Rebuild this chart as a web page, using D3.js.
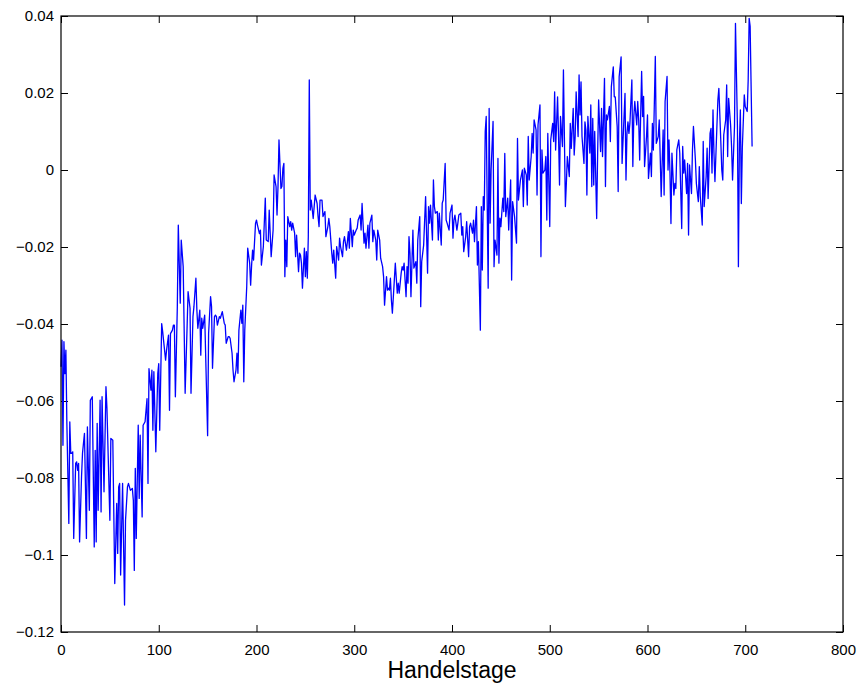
<!DOCTYPE html>
<html>
<head>
<meta charset="utf-8">
<script src="https://cdn.jsdelivr.net/npm/d3@7"></script>
<style>
  body { margin: 0; background: #fff; }
  text { font-family: "Liberation Sans", Arial, sans-serif; }
</style>
</head>
<body>
<div id="chart"></div>
<script>
// chart size
var width = 864;
var height = 691;
// plot box in pixels
var margin = { top: 16, right: 21, bottom: 59, left: 61 };

// tick values
const xTicks = [0, 100, 200, 300, 400, 500, 600, 700, 800];
const yTicks = [-0.12, -0.1, -0.08, -0.06, -0.04, -0.02, 0, 0.02, 0.04];
const xLabel = "Handelstage";

// trading day index
const days = [
  0, 1, 2, 3, 4, 5, 6, 8, 9, 10, 11, 12, 13, 15, 16, 17, 18, 19, 21, 22, 24, 26, 27, 29, 30,
  32, 34, 35, 36, 37, 38, 40, 41, 42, 44, 46, 47, 50, 51, 53, 55, 57, 58, 59, 60, 61, 63, 65,
  66, 68, 69, 71, 73, 74, 75, 76, 77, 79, 80, 81, 83, 84, 86, 87, 88, 89, 90, 92, 93, 94, 95,
  97, 99, 100, 101, 103, 104, 107, 108, 110, 111, 112, 114, 115,
  116, 117, 119, 120, 122, 123, 125, 127, 129, 130, 132, 133, 135, 136, 138, 139, 140, 142,
  143, 144, 145, 147, 150, 151, 153, 154, 155, 157, 158, 159, 160, 162, 163, 165, 167, 168,
  169, 171, 172, 173, 175, 176, 177, 179, 180, 181, 182, 184, 185, 186, 187, 188, 190, 191,
  193, 194, 195, 196, 197, 199, 200, 201, 203, 204,
  205, 207, 209, 210, 212, 213, 214, 215, 217, 218, 220, 221, 222, 223, 225, 226, 227, 228,
  229, 230, 231, 232, 234, 235, 236, 237, 239, 240, 241, 243, 244, 245,
  246, 247, 249, 250, 251, 252, 253, 254, 255, 256, 258, 259, 260, 262, 263, 264, 265, 267,
  268, 270, 271, 273, 274, 275, 277, 278, 279, 281, 282, 284, 285, 286, 288, 289, 290, 292,
  293, 294, 295, 296, 298, 299, 300, 302, 303, 304, 306, 307, 308, 310, 311, 312, 314, 315,
  316, 318, 319, 320, 322, 323, 324, 326, 327, 329, 330, 331, 333, 334, 335, 336, 337, 338,
  339, 341, 342, 344, 345, 346, 348, 349, 350,
  351, 352, 353, 354, 355, 356, 357, 358, 360, 361, 363, 364, 365, 367, 368, 369, 371, 373,
  375, 376, 377, 378, 380, 381, 382, 383, 385, 386, 387, 389, 390, 391, 393, 394, 395, 397,
  398, 400, 401, 402, 403, 405, 406, 407, 409, 410, 411, 412, 414, 415, 417, 418, 419, 421,
  422, 423, 425, 426, 427, 429, 430, 431, 432, 433, 434, 435, 437, 438, 439, 440, 442, 443,
  444, 446, 447, 448, 449, 450, 452, 453, 454, 455, 457, 458, 460, 461, 462, 464, 466, 467, 468,
  470, 472, 473, 474, 476, 477, 478, 479, 481, 482, 483, 484, 486, 487, 488, 490, 491, 492,
  493, 495, 496, 497, 498, 500, 501, 503, 504, 505, 506, 508, 509, 510, 511, 513, 514, 516,
  517, 518, 520, 521, 522, 524, 525, 526, 527, 529, 530, 531, 532, 533, 535, 536, 537, 538,
  539, 541, 542, 543, 544, 545, 546, 548, 549, 550, 552, 553, 554, 556, 557, 558, 559, 561,
  562, 563, 565, 566, 567, 569, 570, 571, 573, 574, 575, 577, 578, 579, 580, 581, 582, 584,
  585, 586,
  587, 589, 590, 591, 592, 594, 595, 596, 597, 599, 600, 601, 603, 604, 605, 606, 608, 609,
  611, 612, 613, 614, 616, 617, 618, 620, 621, 622, 623, 624, 625, 627, 628, 629, 630, 632,
  633, 635, 636, 637, 638, 640, 641, 642, 643, 645, 646, 647, 649, 650, 652, 653, 654, 656,
  657, 658, 660, 661, 662, 664, 665, 666, 667, 668, 669, 671, 672, 673, 675, 676, 677, 678,
  680, 681, 682, 683, 685, 686, 687, 689, 690, 692, 693, 694, 695, 696, 697, 699, 700, 702,
  703, 704, 705, 707
];

// value for each day
const values = [
  -0.0511, -0.0442, -0.0715, -0.0446, -0.0529, -0.0468, -0.0658, -0.0918, -0.0654, -0.0736,
  -0.0736, -0.0732, -0.0957, -0.0762, -0.0758, -0.0780, -0.0762, -0.0966, -0.0797, -0.0736,
  -0.0684, -0.0957, -0.0667, -0.0884, -0.0598, -0.0589, -0.0979, -0.0728, -0.0966, -0.0658,
  -0.0884, -0.0598, -0.0888, -0.0589, -0.0836, -0.0563, -0.0619, -0.0910, -0.0697, -0.0702,
  -0.1074, -0.0866, -0.0996, -0.0823, -0.0814, -0.1052, -0.0814, -0.1130, -0.0910, -0.0823,
  -0.0814, -0.0832, -0.0827, -0.0858, -0.1040, -0.0775, -0.0957, -0.0663, -0.0853, -0.0689,
  -0.0901, -0.0663, -0.0654, -0.0624, -0.0594, -0.0814, -0.0516, -0.0572, -0.0520, -0.0676,
  -0.0524, -0.0732, -0.0529, -0.0503, -0.0676, -0.0399, -0.0420, -0.0494, -0.0468, -0.0429,
  -0.0624, -0.0425, -0.0416, -0.0403,
  -0.0403, -0.0589, -0.0355, -0.0143, -0.0346, -0.0182, -0.0251, -0.0580, -0.0407, -0.0316,
  -0.0359, -0.0580, -0.0381, -0.0355, -0.0281, -0.0364, -0.0411, -0.0364, -0.0481, -0.0385,
  -0.0411, -0.0377, -0.0690, -0.0424, -0.0329, -0.0355, -0.0515, -0.0381, -0.0377, -0.0381,
  -0.0403, -0.0381, -0.0385, -0.0368, -0.0398, -0.0403, -0.0450, -0.0433, -0.0433, -0.0437,
  -0.0476, -0.0520, -0.0550, -0.0520, -0.0476, -0.0528, -0.0416, -0.0364, -0.0398, -0.0351,
  -0.0550, -0.0416, -0.0303, -0.0203, -0.0242, -0.0299, -0.0247, -0.0208, -0.0234, -0.0139,
  -0.0130, -0.0143, -0.0165, -0.0156,
  -0.0247, -0.0199, -0.0073, -0.0182, -0.0186, -0.0104, -0.0164, -0.0225, -0.0156, -0.0013,
  -0.0043, -0.0117, -0.0043, 0.0078, -0.0048, -0.0043, 0.0004, 0.0017, -0.0277, -0.0182,
  -0.0251, -0.0121, -0.0147, -0.0134, -0.0156, -0.0138, -0.0164, -0.0225, -0.0169, -0.0264,
  -0.0216, -0.0221,
  -0.0242, -0.0307, -0.0203, -0.0277, -0.0212, -0.0281, -0.0173, 0.0234, -0.0104, -0.0078,
  -0.0126, -0.0095, -0.0065, -0.0087, -0.0121, -0.0147, -0.0078, -0.0078, -0.0121, -0.0108,
  -0.0173, -0.0147, -0.0126, -0.0147, -0.0216, -0.0242, -0.0208, -0.0281, -0.0199, -0.0234,
  -0.0177, -0.0199, -0.0225, -0.0186, -0.0173, -0.0208, -0.0186, -0.0160, -0.0203, -0.0126,
  -0.0199, -0.0156, -0.0169, -0.0156, -0.0151, -0.0130, -0.0117, -0.0156, -0.0087, -0.0190,
  -0.0164, -0.0203, -0.0143, -0.0203, -0.0138, -0.0117, -0.0186, -0.0156, -0.0182, -0.0234,
  -0.0156, -0.0182, -0.0229, -0.0251, -0.0277, -0.0351, -0.0277, -0.0312, -0.0307, -0.0312,
  -0.0281, -0.0338, -0.0372, -0.0286, -0.0242, -0.0320, -0.0294, -0.0320, -0.0268, -0.0251,
  -0.0260,
  -0.0242, -0.0286, -0.0329, -0.0251, -0.0294, -0.0173, -0.0216, -0.0329, -0.0156, -0.0255,
  -0.0238, -0.0294, -0.0182, -0.0121, -0.0355, -0.0238, -0.0195, -0.0069, -0.0268, -0.0095,
  -0.0138, -0.0091, -0.0182, -0.0026, -0.0095, -0.0112, -0.0108, -0.0182, -0.0112, -0.0195,
  -0.0086, -0.0078, 0.0017, -0.0130, -0.0138, -0.0156, -0.0112, -0.0091, -0.0177, -0.0130,
  -0.0117, -0.0156, -0.0138, -0.0117, -0.0112, -0.0169, -0.0147, -0.0212, -0.0173, -0.0134,
  -0.0225, -0.0147, -0.0138, -0.0164, -0.0130, -0.0186, -0.0095, -0.0247, -0.0186, -0.0416,
  -0.0095, -0.0260, -0.0069, -0.0104, 0.0100, 0.0139, -0.0307, 0.0160, -0.0138, 0.0000,
  0.0126, -0.0251, -0.0182, -0.0221, 0.0030, -0.0242, -0.0125, -0.0147, -0.0073, -0.0108,
  0.0043, -0.0121, -0.0073, -0.0156, -0.0026, -0.0286, -0.0082, -0.0121, -0.0190, 0.0082,
  -0.0078,
  -0.0026, 0.0000, -0.0095, 0.0005, -0.0013, -0.0091, 0.0087, -0.0026, 0.0035, 0.0095,
  0.0044, 0.0130, 0.0104, -0.0065, 0.0117, 0.0169, -0.0225, 0.0052, -0.0008, 0.0000,
  0.0035, -0.0130, 0.0095, -0.0147, 0.0078, 0.0121, 0.0074, 0.0203, 0.0052, 0.0190,
  0.0087, -0.0039, 0.0139, 0.0061, 0.0260, -0.0095, -0.0034, 0.0035, -0.0017, 0.0121,
  0.0056, 0.0160, 0.0039, 0.0087, 0.0203, 0.0087, 0.0247, 0.0143, 0.0229, 0.0087,
  0.0017, 0.0125, 0.0104, -0.0065, 0.0139, 0.0044, 0.0169, -0.0043, 0.0134, -0.0039,
  0.0100, -0.0126, 0.0044, 0.0182, 0.0048, 0.0160, 0.0035, 0.0238, -0.0043, 0.0143,
  0.0130, 0.0165, 0.0074, 0.0216, 0.0268, 0.0190, 0.0190, 0.0112, -0.0056, 0.0242,
  0.0294, 0.0017, 0.0078, 0.0199, -0.0026, 0.0095, 0.0125, 0.0095, 0.0121, 0.0234,
  0.0009, 0.0139,
  0.0178, 0.0117, 0.0178, 0.0130, 0.0026, 0.0256, 0.0139, 0.0191, 0.0009, 0.0087,
  0.0143, -0.0022, 0.0044, -0.0017, 0.0121, 0.0052, 0.0295, 0.0069, 0.0087, 0.0130,
  0.0035, -0.0069, 0.0104, -0.0065, 0.0178, 0.0243, 0.0000, 0.0078, -0.0008, -0.0139,
  0.0044, -0.0065, -0.0035, -0.0048, 0.0052, 0.0078, 0.0044, -0.0152, 0.0061, -0.0008,
  0.0026, -0.0061, 0.0017, -0.0169, 0.0013, -0.0061, 0.0052, 0.0113, 0.0026, -0.0035,
  -0.0082, 0.0009, -0.0069, -0.0143, 0.0074, -0.0095, -0.0017, 0.0057, -0.0074, 0.0095,
  0.0108, -0.0008, 0.0156, 0.0044, -0.0030, 0.0113, 0.0182, 0.0212, 0.0074, 0.0000,
  -0.0026, 0.0091, 0.0130, 0.0221, 0.0035, 0.0186, 0.0117, 0.0061, -0.0026, 0.0113,
  0.0381, 0.0113, -0.0251, 0.0069, 0.0156, -0.0087, 0.0057, 0.0195, 0.0165, 0.0152,
  0.0234, 0.0394, 0.0373, 0.0061
];

const series = days.map((d, i) => ({ day: d, value: values[i] }));

const svg = d3.select("#chart")
  .append("svg")
  .attr("width", width)
  .attr("height", height);

const plotW = width - margin.left - margin.right;
const plotH = height - margin.top - margin.bottom;

const g = svg.append("g")
  .attr("transform", "translate(" + margin.left + "," + margin.top + ")");

// scales
const x = d3.scaleLinear().domain([0, 800]).range([0, plotW]);
const y = d3.scaleLinear().domain([-0.12, 0.04]).range([plotH, 0]);

const fmt = d3.format("~g");
const tick = 7;

// bottom axis with labels, ticks pointing inward
g.append("g")
  .attr("class", "axis")
  .attr("transform", "translate(0," + plotH + ")")
  .call(d3.axisBottom(x).tickValues(xTicks).tickSizeInner(-tick).tickSizeOuter(0).tickPadding(12));

// left axis with labels
g.append("g")
  .attr("class", "axis")
  .call(d3.axisLeft(y).tickValues(yTicks).tickFormat(fmt).tickSizeInner(-tick).tickSizeOuter(0).tickPadding(7));

// top and right ticks only
g.append("g")
  .attr("class", "axis")
  .call(d3.axisTop(x).tickValues(xTicks).tickSizeInner(-tick).tickSizeOuter(0).tickFormat(""));

g.append("g")
  .attr("class", "axis")
  .attr("transform", "translate(" + plotW + ",0)")
  .call(d3.axisRight(y).tickValues(yTicks).tickSizeInner(-tick).tickSizeOuter(0).tickFormat(""));

g.selectAll(".axis .domain").remove();
g.selectAll(".axis line").attr("stroke", "#000").attr("stroke-width", 1);
g.selectAll(".axis text")
  .attr("fill", "#000")
  .style("font-size", "15px")
  .style("font-family", "'Liberation Sans', Arial, sans-serif");

// the data line
const line = d3.line()
  .x(d => x(d.day))
  .y(d => y(d.value));

g.append("path")
  .datum(series)
  .attr("fill", "none")
  .attr("stroke", "#0000ff")
  .attr("stroke-width", 1.3)
  .attr("stroke-linejoin", "round")
  .attr("d", line);

// box around the plot
g.append("rect")
  .attr("x", 0)
  .attr("y", 0)
  .attr("width", plotW)
  .attr("height", plotH)
  .attr("fill", "none")
  .attr("stroke", "#000")
  .attr("stroke-width", 1.2);

// x label
svg.append("text")
  .attr("x", margin.left + plotW / 2)
  .attr("y", 678)
  .attr("text-anchor", "middle")
  .style("font-size", "23px")
  .style("font-family", "'Liberation Sans', Arial, sans-serif")
  .text(xLabel);
</script>
</body>
</html>
